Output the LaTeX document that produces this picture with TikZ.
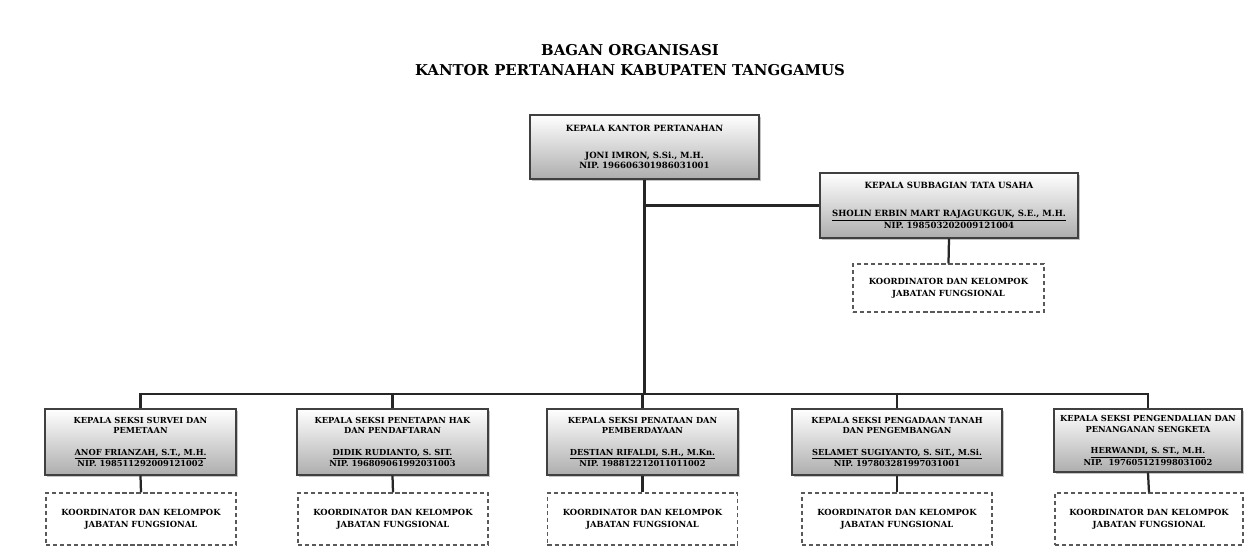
\documentclass[tikz,border=0pt]{standalone}
\usepackage{fontspec}
\setmainfont{DejaVu Serif}
\usetikzlibrary{positioning,shadows,calc}

\begin{document}
\begin{tikzpicture}[x=0.025cm, y=-0.025cm,
    jabatan/.style={draw=black!75, line width=1pt, top color=white, bottom color=black!32,
        drop shadow={shadow xshift=1.2pt, shadow yshift=-1.2pt, fill=black!45},
        align=center, inner sep=0pt, minimum height=1.65cm,
        font=\bfseries\fontsize{5.9}{7.3}\selectfont},
    koord/.style={draw=black!65, line width=0.9pt, dash pattern=on 3pt off 2pt,
        align=center, inner sep=0pt, minimum width=4.75cm, minimum height=1.3cm,
        font=\bfseries\fontsize{6.0}{8.4}\selectfont},
    garis/.style={draw=black!85, line width=1.6pt}]
    \useasboundingbox (0,0) rectangle (1245,547);

    % Judul
    \node (judul1) at (630,50) {\bfseries\fontsize{10.6}{13}\selectfont BAGAN ORGANISASI};
    \node (judul2) at (630,70) {\bfseries\fontsize{10.6}{13}\selectfont KANTOR PERTANAHAN KABUPATEN TANGGAMUS};

    % Kepala kantor dan subbagian
    \node [jabatan, minimum width=5.725cm, minimum height=1.6cm, font=\bfseries\fontsize{6.1}{7.2}\selectfont] (kepala) at (644.5,147)
        {KEPALA KANTOR PERTANAHAN\\[12pt]JONI IMRON, S.Si., M.H.\\NIP. 196606301986031001};
    \node [jabatan, minimum width=6.45cm, minimum height=1.625cm, font=\bfseries\fontsize{6.1}{7.4}\selectfont] (subbag) at (949,205.5)
        {KEPALA SUBBAGIAN TATA USAHA\\[12pt]\underline{SHOLIN ERBIN MART RAJAGUKGUK, S.E., M.H.}\\NIP. 198503202009121004};
    \node [koord, minimum width=4.775cm, minimum height=1.2cm] (koordtu) at (948.5,288)
        {KOORDINATOR DAN KELOMPOK\\JABATAN FUNGSIONAL};

    % Seksi-seksi
    \node [jabatan, minimum width=4.775cm] (seksi1) at (140.5,442)
        {KEPALA SEKSI SURVEI DAN\\PEMETAAN\\[8pt]\underline{ANOF FRIANZAH, S.T., M.H.}\\NIP. 198511292009121002};
    \node [jabatan, minimum width=4.775cm] (seksi2) at (392.5,442)
        {KEPALA SEKSI PENETAPAN HAK\\DAN PENDAFTARAN\\[8pt]\underline{DIDIK RUDIANTO, S. SIT.}\\NIP. 196809061992031003};
    \node [jabatan, minimum width=4.775cm] (seksi3) at (642.5,442)
        {KEPALA SEKSI PENATAAN DAN\\PEMBERDAYAAN\\[8pt]\underline{DESTIAN RIFALDI, S.H., M.Kn.}\\NIP. 198812212011011002};
    \node [jabatan, minimum width=5.25cm] (seksi4) at (897,442)
        {KEPALA SEKSI PENGADAAN TANAH\\DAN PENGEMBANGAN\\[8pt]\underline{SELAMET SUGIYANTO, S. SiT., M.Si.}\\NIP. 197803281997031001};
    \node [jabatan, minimum width=4.7cm, minimum height=1.575cm] (seksi5) at (1148,440.5)
        {KEPALA SEKSI PENGENDALIAN DAN\\PENANGANAN SENGKETA\\[8pt]\underline{HERWANDI, S. ST., M.H.}\\NIP.\ \ 197605121998031002};

    % Kelompok jabatan fungsional
    \node [koord] (koord1) at (141,519) {KOORDINATOR DAN KELOMPOK\\JABATAN FUNGSIONAL};
    \node [koord] (koord2) at (393,519) {KOORDINATOR DAN KELOMPOK\\JABATAN FUNGSIONAL};
    \node [koord] (koord3) at (642.5,519) {KOORDINATOR DAN KELOMPOK\\JABATAN FUNGSIONAL};
    \node [koord] (koord4) at (897,519) {KOORDINATOR DAN KELOMPOK\\JABATAN FUNGSIONAL};
    \node [koord, minimum width=4.7cm] (koord5) at (1149,519) {KOORDINATOR DAN KELOMPOK\\JABATAN FUNGSIONAL};

    % Garis
    \coordinate (bus) at (644.5,394);
    \draw [garis] (kepala.south) -- (bus);
    \draw [garis] (kepala.south |- subbag.west) -- (subbag.west);
    \draw [garis] (subbag.south) -- (koordtu.north);
    \draw [garis] (seksi1.north) |- (bus) -| (seksi5.north);
    \draw [garis] (bus -| seksi2.north) -- (seksi2.north);
    \draw [garis] (bus -| seksi3.north) -- (seksi3.north);
    \draw [garis] (bus -| seksi4.north) -- (seksi4.north);
    \draw [garis] (seksi1.south) -- (koord1.north);
    \draw [garis] (seksi2.south) -- (koord2.north);
    \draw [garis] (seksi3.south) -- (koord3.north);
    \draw [garis] (seksi4.south) -- (koord4.north);
    \draw [garis] (seksi5.south) -- (koord5.north);
\end{tikzpicture}
\end{document}
